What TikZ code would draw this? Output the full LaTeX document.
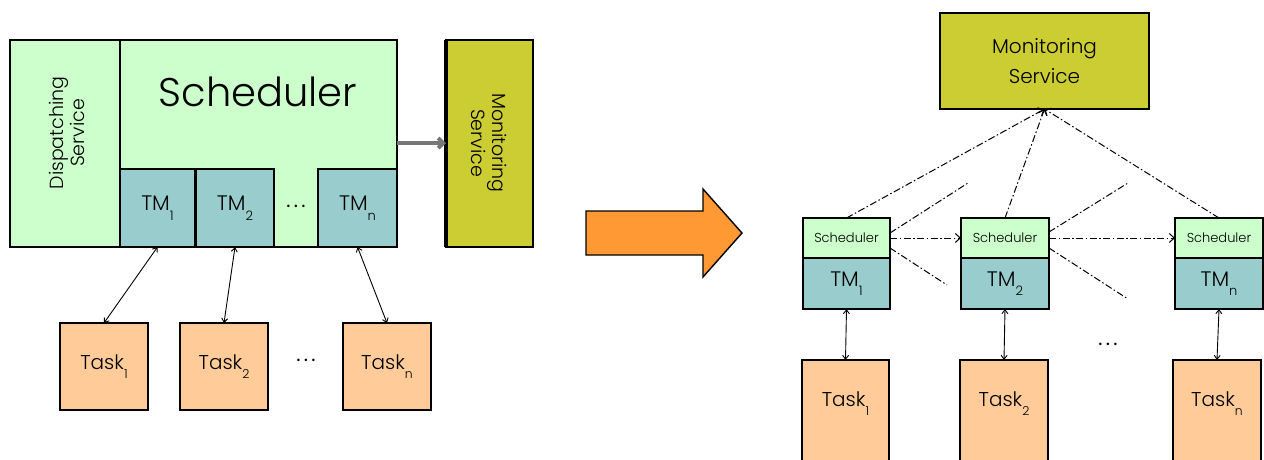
\documentclass[tikz,border=0pt]{standalone}
\usepackage{fontspec}
\usepackage{graphicx}
\setmainfont{Poppins}[UprightFont=* Light, BoldFont=*]
\usetikzlibrary{arrows.meta}

\definecolor{schedgreen}{HTML}{CCFFCC}
\definecolor{tmteal}{HTML}{99CCCC}
\definecolor{monyellow}{HTML}{CCCC33}
\definecolor{taskpeach}{HTML}{FFCC99}
\definecolor{bigorange}{HTML}{FF9933}
\definecolor{linkgray}{HTML}{777777}

% index drawn below the baseline, as in TM_1, Task_n
\newcommand\idx[1]{\raisebox{-0.45em}{\scalebox{0.62}{#1}}}

\tikzset{
  box/.style={draw=black, line width=1.6pt, inner sep=0pt, outer sep=0pt},
  schedbox/.style={box, fill=schedgreen},
  tmbox/.style={box, fill=tmteal},
  monbox/.style={box, fill=monyellow},
  taskbox/.style={box, fill=taskpeach},
  link/.style={line width=0.9pt, {Straight Barb[length=4pt,width=6pt]}-{Straight Barb[length=4pt,width=6pt]}},
  dashdot/.style={line width=1pt, dash pattern=on 7pt off 2.5pt on 1.5pt off 2.5pt},
  dashdotarrow/.style={dashdot, -{Straight Barb[length=5pt,width=9pt]}},
  lbl/.style={inner sep=0pt, text=black},
  ellip/.style={inner sep=0pt, text=black, font=\fontsize{20}{22}\selectfont\bfseries},
}

\begin{document}
\begin{tikzpicture}[x=1pt, y=-1pt]
\useasboundingbox (0,0) rectangle (1264,459);

% ---------------- centralised scheme ----------------
\node[schedbox, minimum width=110pt, minimum height=207pt] (disp) at (65,143.5) {};
\node[schedbox, minimum width=277pt, minimum height=207pt] (sched) at (258.5,143.5) {};
\node[lbl, rotate=90, align=center, font=\fontsize{19}{21}\selectfont] (disptext) at (67,133) {Dispatching\\Service};
\node[lbl, font=\fontsize{40}{44}\selectfont] (schedtext) at (258,92) {Scheduler};

\node[tmbox, minimum width=75pt, minimum height=78pt] (tma) at (157.5,208) {};
\node[tmbox, minimum width=78pt, minimum height=78pt] (tmb) at (235,208) {};
\node[tmbox, minimum width=79pt, minimum height=78pt] (tmc) at (357.5,208) {};
\node[lbl, font=\fontsize{21}{23}\selectfont] at (tma) {TM\idx{1}};
\node[lbl, font=\fontsize{21}{23}\selectfont] at (tmb) {TM\idx{2}};
\node[lbl, font=\fontsize{21}{23}\selectfont] at (tmc) {TM\idx{n}};
\node[ellip] (tmdots) at (296,206) {.\,.\,.};

\node[monbox, minimum width=87pt, minimum height=207pt] (monl) at (489.5,143.5) {};
\draw[line width=3.5pt] (monl.north west) -- (monl.south west);
\node[lbl, rotate=-90, align=center, font=\fontsize{19}{21}\selectfont] (monltext) at (489,143) {Monitoring\\Service};

\draw[linkgray, line width=4pt, -{Straight Barb[length=5pt,width=10pt]}] (sched.east |- 0,143) -- (monl.west |- 0,143);

\node[taskbox, minimum width=88pt, minimum height=87pt] (taska) at (104,366.5) {};
\node[taskbox, minimum width=88pt, minimum height=87pt] (taskb) at (224,366.5) {};
\node[taskbox, minimum width=88pt, minimum height=87pt] (taskc) at (387,366.5) {};
\node[lbl, font=\fontsize{20}{22}\selectfont] at (taska) {Task\idx{1}};
\node[lbl, font=\fontsize{20}{22}\selectfont] at (taskb) {Task\idx{2}};
\node[lbl, font=\fontsize{20}{22}\selectfont] at (taskc) {Task\idx{n}};
\node[ellip] (taskdots) at (306,360) {.\,.\,.};

\draw[link] (tma.south) -- (taska.north);
\draw[link] (tmb.south) -- (taskb.north);
\draw[link] (tmc.south) -- (taskc.north);

% ---------------- transition arrow ----------------
\draw[fill=bigorange, line width=1.4pt, line join=miter]
  (586,211) -- (703,211) -- (703,189) -- (742,233) -- (703,277) -- (703,255) -- (586,255) -- cycle;

% ---------------- distributed scheme ----------------
\node[monbox, minimum width=209pt, minimum height=96pt] (monr) at (1044.5,61) {};
\node[lbl, align=center, font=\fontsize{20}{30}\selectfont] at (monr) {Monitoring\\Service};

\node[schedbox, minimum width=87pt, minimum height=40pt] (sa) at (846.5,238) {};
\node[schedbox, minimum width=88pt, minimum height=40pt] (sb) at (1005,238) {};
\node[schedbox, minimum width=88pt, minimum height=40pt] (sc) at (1219,238) {};
\node[lbl, font=\fontsize{13}{15}\selectfont] at (sa) {Scheduler};
\node[lbl, font=\fontsize{13}{15}\selectfont] at (sb) {Scheduler};
\node[lbl, font=\fontsize{13}{15}\selectfont] at (sc) {Scheduler};

\node[tmbox, minimum width=87pt, minimum height=51pt] (ra) at (846.5,283.5) {};
\node[tmbox, minimum width=88pt, minimum height=51pt] (rb) at (1005,283.5) {};
\node[tmbox, minimum width=88pt, minimum height=51pt] (rc) at (1219,283.5) {};
\node[lbl, font=\fontsize{21}{23}\selectfont] at (ra) {TM\idx{1}};
\node[lbl, font=\fontsize{21}{23}\selectfont] at (rb) {TM\idx{2}};
\node[lbl, font=\fontsize{21}{23}\selectfont] at (rc) {TM\idx{n}};

\node[taskbox, minimum width=87pt, minimum height=110pt] (qa) at (845.5,415) {};
\node[taskbox, minimum width=88pt, minimum height=110pt] (qb) at (1004,415) {};
\node[taskbox, minimum width=88pt, minimum height=110pt] (qc) at (1217,415) {};
\node[lbl, font=\fontsize{20}{22}\selectfont] at (845.5,404) {Task\idx{1}};
\node[lbl, font=\fontsize{20}{22}\selectfont] at (1004,404) {Task\idx{2}};
\node[lbl, font=\fontsize{20}{22}\selectfont] at (1217,404) {Task\idx{n}};
\node[ellip] (rdots) at (1108,344) {.\,.\,.};

\draw[link] (ra.south) -- (qa.north);
\draw[link] (rb.south) -- (qb.north);
\draw[link] (rc.south) -- (qc.north);

% reports to the monitoring service
\draw[dashdotarrow] (sa.north) -- (monr.south);
\draw[dashdotarrow] (sb.north) -- (monr.south);
\draw[dashdotarrow] (sc.north) -- (monr.south);

% scheduler to scheduler
\draw[dashdotarrow] (sa.east) -- (sb.west);
\draw[dashdotarrow] (sb.east) -- (sc.west);

% links towards further schedulers
\coordinate (fa1) at (968,183);
\coordinate (fa2) at (947,285);
\coordinate (fb1) at (1128,183);
\coordinate (fb2) at (1128,299);
\draw[dashdot] ([yshift=5pt]sa.east) -- (fa1);
\draw[dashdot] ([yshift=-10pt]sa.east) -- (fa2);
\draw[dashdot] ([yshift=6pt]sb.east) -- (fb1);
\draw[dashdot] ([yshift=-10pt]sb.east) -- (fb2);
\end{tikzpicture}
\end{document}
